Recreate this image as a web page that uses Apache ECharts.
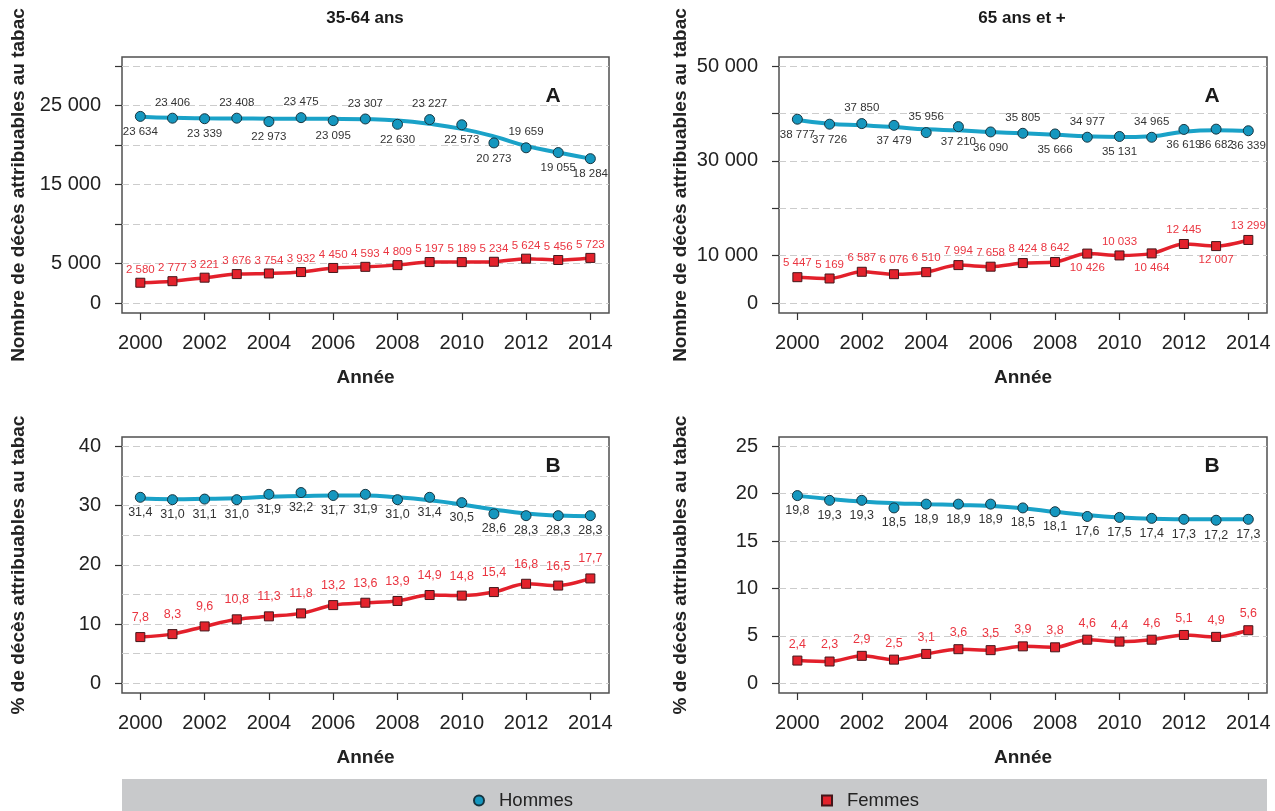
<!DOCTYPE html>
<html><head><meta charset="utf-8">
<script src="https://cdn.jsdelivr.net/npm/echarts@6/dist/echarts.min.js"></script>
<style>html,body{margin:0;padding:0;background:#fff}#c{width:1275px;height:811px}</style>
</head><body><div id="c"></div>
<script>
// ---------- DATA ----------
const years = [2000,2001,2002,2003,2004,2005,2006,2007,2008,2009,2010,2011,2012,2013,2014];
const xTickYears = [2000,2002,2004,2006,2008,2010,2012,2014];

// Panel A, 35-64 ans (nombre de décès)
const hommesA3564 = [23634,23406,23339,23408,22973,23475,23095,23307,22630,23227,22573,20273,19659,19055,18284];
const hommesA3564Trend = [23600,23450,23390,23370,23340,23330,23320,23280,23120,22700,22050,21100,19900,19060,18290];
const femmesA3564 = [2580,2777,3221,3676,3754,3932,4450,4593,4809,5197,5189,5234,5624,5456,5723];

// Panel A, 65 ans et + (nombre de décès)
const hommesA65 = [38777,37726,37850,37479,35956,37210,36090,35805,35666,34977,35131,34965,36619,36682,36339];
const hommesA65Trend = [38600,37800,37480,37130,36640,36430,36080,35800,35510,35160,35020,35200,36150,36430,36290];
const femmesA65 = [5447,5169,6587,6076,6510,7994,7658,8424,8642,10426,10033,10464,12445,12007,13299];

// Panel B, 35-64 ans (%)
const hommesB3564 = [31.4,31.0,31.1,31.0,31.9,32.2,31.7,31.9,31.0,31.4,30.5,28.6,28.3,28.3,28.3];
const hommesB3564Trend = [31.2,31.08,31.14,31.25,31.5,31.6,31.7,31.7,31.4,30.9,30.2,29.35,28.66,28.33,28.2];
const femmesB3564 = [7.8,8.3,9.6,10.8,11.3,11.8,13.2,13.6,13.9,14.9,14.8,15.4,16.8,16.5,17.7];

// Panel B, 65 ans et + (%)
const hommesB65 = [19.8,19.3,19.3,18.5,18.9,18.9,18.9,18.5,18.1,17.6,17.5,17.4,17.3,17.2,17.3];
const hommesB65Trend = [19.77,19.45,19.18,19.0,18.9,18.82,18.71,18.47,18.09,17.74,17.49,17.35,17.31,17.3,17.3];
const femmesB65 = [2.4,2.3,2.9,2.5,3.1,3.6,3.5,3.9,3.8,4.6,4.4,4.6,5.1,4.9,5.6];

// Tick values / labels
const yTicksA3564 = [0,5000,10000,15000,20000,25000,30000];
const yLabelsA3564 = [0,5000,15000,25000];
const yTicksA65 = [0,10000,20000,30000,40000,50000];
const yLabelsA65 = [0,10000,30000,50000];
const yTicksB3564 = [0,10,20,30,40];
const yGridB3564 = [0,5,10,15,20,25,30,35,40];
const yTicksB65 = [0,5,10,15,20,25];

// Label placement (style)
const posHA3564 = ['bottom','top','bottom','top','bottom','top','bottom','top','bottom','top','bottom','bottom','top','bottom','bottom'];
const posHA65 = ['bottom','bottom','top','bottom','top','bottom','bottom','top','bottom','top','bottom','top','bottom','bottom','bottom'];
const posFA65 = ['top','top','top','top','top','top','top','top','top','bottom','top','bottom','top','bottom','top'];

// ---------- STYLE ----------
const FONT = "'Liberation Sans',Arial,sans-serif";
const BLUE_LINE = '#1AA2C8', BLUE = '#1597BF', BLUE_BORDER = '#173540';
const RED_LINE = '#E3202B', RED = '#E3222C', RED_BORDER = '#43161a', RED_TXT = '#EA3540';
const fmtInt = v => Math.round(v).toString().replace(/\B(?=(\d{3})+(?!\d))/g, ' ');
const fmtDec = v => v.toFixed(1).replace('.', ',');

const grids = [
  {left:122, top:57, width:487, height:256},
  {left:779, top:57, width:488, height:256},
  {left:122, top:437, width:487, height:256},
  {left:779, top:437, width:488, height:256}
].map(g => Object.assign(g, {show:true, borderColor:'#505050', borderWidth:1.5, backgroundColor:'transparent', outerBoundsMode:'none', containLabel:false}));

const xAxes = [0,1,2,3].map(i => ({
  type:'value', gridIndex:i, min:1999.43, max:2014.58, position:'bottom',
  axisLine:{show:false, onZero:false},
  axisTick:{show:true, inside:false, length:7, lineStyle:{color:'#333', width:1.2}, customValues:xTickYears},
  axisLabel:{customValues:xTickYears, fontSize:20, color:'#222', margin:20, fontFamily:FONT, formatter:v=>String(v)},
  splitLine:{show:false},
  name:'Année', nameLocation:'middle', nameGap:55, nameMoveOverlap:false,
  nameTextStyle:{fontSize:19, fontWeight:'bold', color:'#222', fontFamily:FONT}
}));

const dashed = {show:true, lineStyle:{color:'#cccccc', type:[7,4], width:1}};
function yAxis(i, min, max, ticks, labels, fmt, name, split, gap){
  return {
    type:'value', gridIndex:i, min:min, max:max,
    axisLine:{show:false, onZero:false},
    axisTick:{show:true, inside:false, length:7, lineStyle:{color:'#333', width:1.2}, customValues:ticks},
    axisLabel:{customValues:labels, fontSize:20, color:'#222', margin:21, fontFamily:FONT, formatter:fmt},
    splitLine: split ? dashed : {show:false},
    name:name, nameLocation:'middle', nameGap:gap, nameMoveOverlap:false,
    nameTextStyle:{fontSize:19, fontWeight:'bold', color:'#222', fontFamily:FONT}
  };
}
const nameA = 'Nombre de décès attribuables au tabac';
const nameB = '% de décès attribuables au tabac';
const yAxes = [
  yAxis(0, -1250, 31150, yTicksA3564, yLabelsA3564, fmtInt, nameA, true, 94),
  yAxis(1, -2110, 51900, yTicksA65, yLabelsA65, fmtInt, nameA, true, 89),
  yAxis(2, -1.64, 41.58, yTicksB3564, yTicksB3564, v=>String(v), nameB, false, 94),
  yAxis(3, -1.02, 25.98, yTicksB65, yTicksB65, v=>String(v), nameB, true, 89),
  { type:'value', gridIndex:2, min:-1.64, max:41.58, position:'right',
    axisLine:{show:false, onZero:false}, axisTick:{show:false, customValues:yGridB3564},
    axisLabel:{show:false}, splitLine:dashed }
];

function panelSeries(i, trend, hommes, femmes, fmt, posH, posF, distH, distF, fs){
  const pts = arr => years.map((y,k) => [y, arr[k]]);
  return [
    {type:'line', name:'Hommes_tendance', xAxisIndex:i, yAxisIndex:i, data:pts(trend),
     smooth:0.5, symbol:'none', lineStyle:{color:BLUE_LINE, width:4}, z:2, silent:true},
    {type:'line', name:'Femmes_ligne', xAxisIndex:i, yAxisIndex:i, data:pts(femmes),
     smooth:0.3, symbol:'none', lineStyle:{color:RED_LINE, width:3.5}, z:2, silent:true},
    {type:'scatter', name:'Hommes', xAxisIndex:i, yAxisIndex:i,
     data: years.map((y,k) => ({value:[y, hommes[k]], label:{position: posH ? posH[k] : 'bottom'}})),
     symbol:'circle', symbolSize:10,
     itemStyle:{color:BLUE, borderColor:BLUE_BORDER, borderWidth:1, opacity:1},
     label:{show:true, color:'#333', fontSize:fs, fontFamily:FONT, distance:distH, formatter:p=>fmt(p.value[1])}, z:4},
    {type:'scatter', name:'Femmes', xAxisIndex:i, yAxisIndex:i,
     data: years.map((y,k) => ({value:[y, femmes[k]], label:{position: posF ? posF[k] : 'top'}})),
     symbol:'rect', symbolSize:9,
     itemStyle:{color:RED, borderColor:RED_BORDER, borderWidth:1, opacity:1},
     label:{show:true, color:RED_TXT, fontSize:fs, fontFamily:FONT, distance:distF, formatter:p=>fmt(p.value[1])}, z:4}
  ];
}

const series = [].concat(
  panelSeries(0, hommesA3564Trend, hommesA3564, femmesA3564, fmtInt, posHA3564, null, 4, 2, 11.5),
  panelSeries(1, hommesA65Trend, hommesA65, femmesA65, fmtInt, posHA65, posFA65, 4, 3, 11.5),
  panelSeries(2, hommesB3564Trend, hommesB3564, femmesB3564, fmtDec, null, null, 3, 8, 12.5),
  panelSeries(3, hommesB65Trend, hommesB65, femmesB65, fmtDec, null, null, 3, 5, 12.5)
);

const txt = (x, y, t, size) => ({type:'text', x:x, y:y, z:10,
  style:{text:t, font:'bold ' + size + 'px ' + FONT, fill:'#1a1a1a', textAlign:'center', textVerticalAlign:'middle'}});

const option = {
  animation:false,
  backgroundColor:'#ffffff',
  grid:grids, xAxis:xAxes, yAxis:yAxes, series:series,
  legend:{
    data:[{name:'Hommes', icon:'circle'}, {name:'Femmes', icon:'rect'}],
    left:468, top:786, itemWidth:10, itemHeight:10, itemGap:248, selectedMode:false,
    textStyle:{fontSize:18.5, color:'#222', fontFamily:FONT, padding:[0,0,0,10]}
  },
  graphic:[
    {type:'rect', left:122, top:779, z:-1, shape:{width:1145, height:32}, style:{fill:'#C8C9CB'}},
    txt(365, 18, '35-64 ans', 17),
    txt(1022, 18, '65 ans et +', 17),
    txt(553, 96, 'A', 21),
    txt(1212, 96, 'A', 21),
    txt(553, 466, 'B', 21),
    txt(1212, 466, 'B', 21)
  ]
};
const chart = echarts.init(document.getElementById('c'), null, {renderer:'canvas'});
chart.setOption(option);
</script></body></html>
